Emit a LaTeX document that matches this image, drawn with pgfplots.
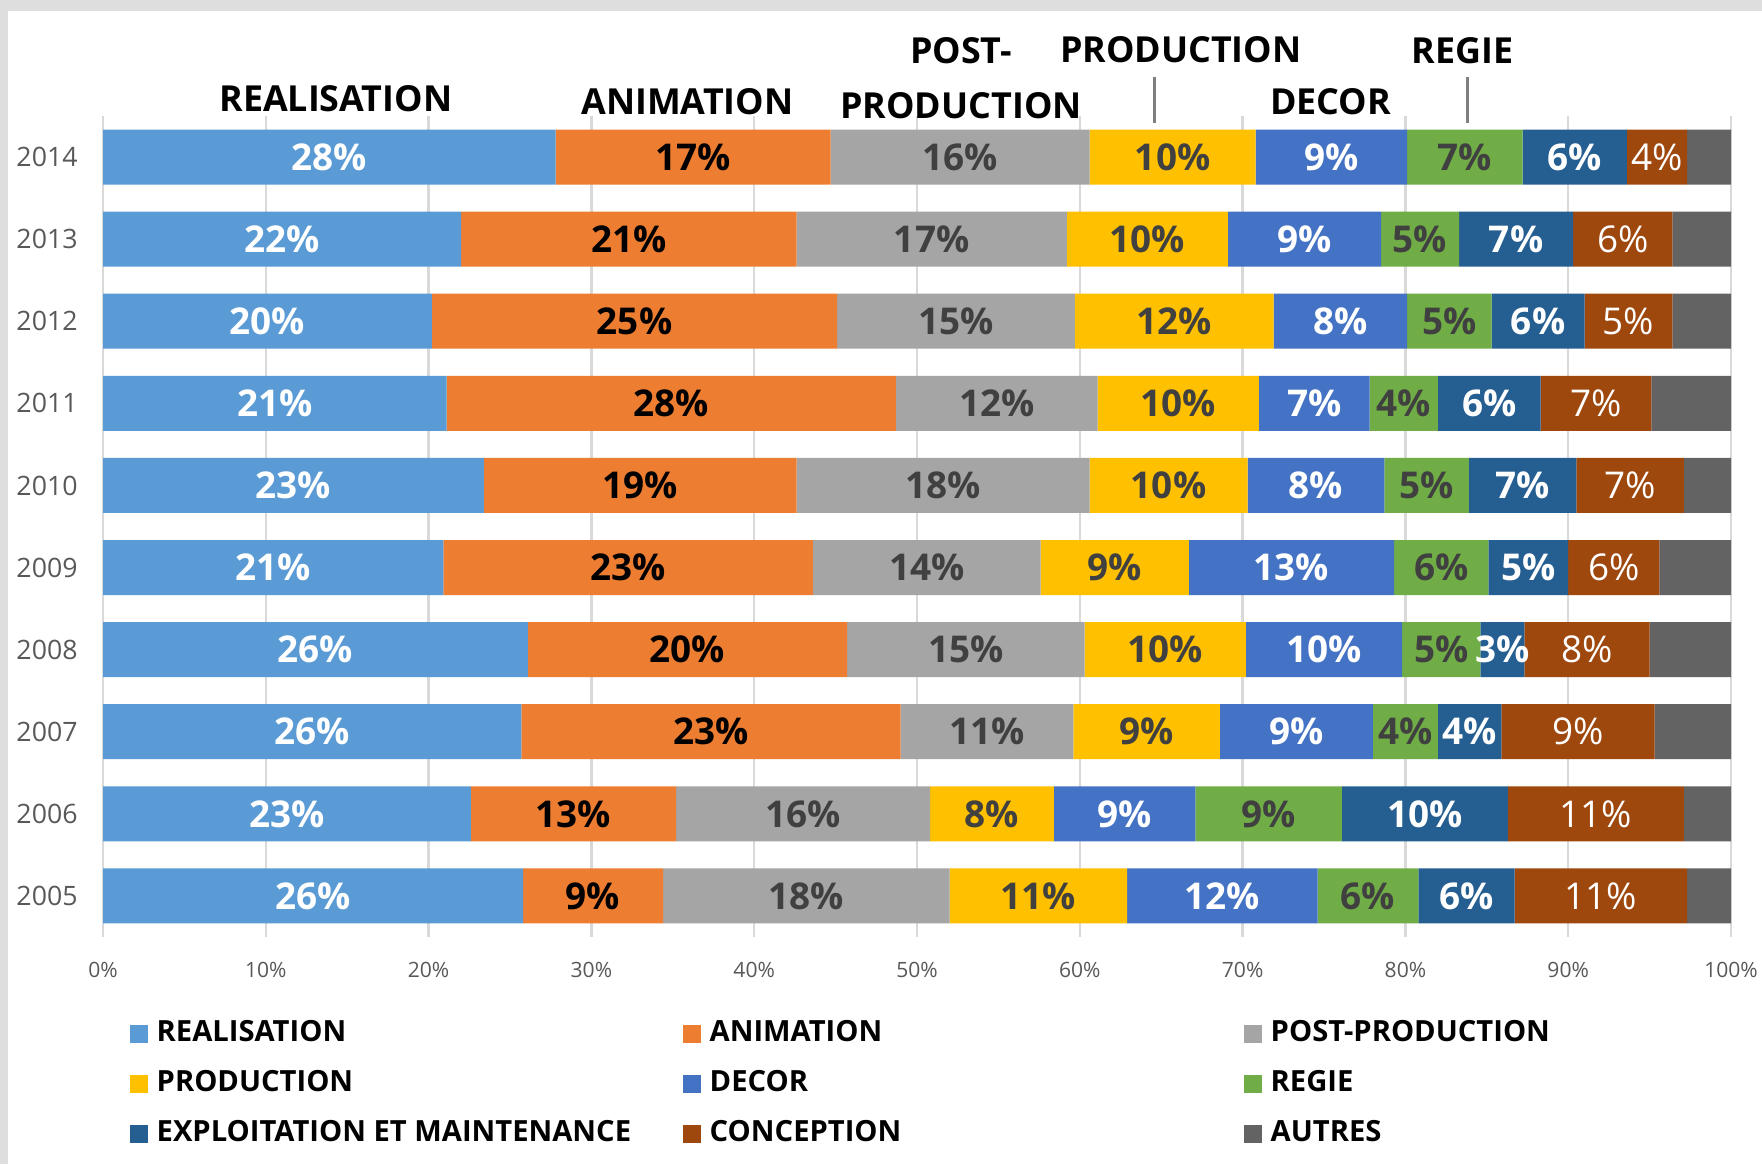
\documentclass[border=0pt]{standalone}
\usepackage{pgfplots}
\usepackage{pgfplotstable}
\pgfplotsset{compat=1.18}
\usepackage{fontspec}
\setmainfont{Open Sans}

\definecolor{cReal}{HTML}{5B9BD5}
\definecolor{cAnim}{HTML}{ED7D31}
\definecolor{cPost}{HTML}{A5A5A5}
\definecolor{cProd}{HTML}{FFC000}
\definecolor{cDecor}{HTML}{4472C4}
\definecolor{cRegie}{HTML}{70AD47}
\definecolor{cExpl}{HTML}{255E91}
\definecolor{cConc}{HTML}{9E480E}
\definecolor{cAutr}{HTML}{636363}
\definecolor{cDark}{HTML}{404040}
\definecolor{cTick}{HTML}{595959}
\definecolor{cGrid}{HTML}{D9D9D9}
\definecolor{cBorder}{HTML}{DEDEDE}
\definecolor{cLeader}{HTML}{7F7F7F}

% share of each trade per year (%)
\pgfplotstableread{
year REAL ANIM POST PROD DECOR REGIE EXPL CONC AUTR
2005 25.8  8.6 17.6 10.9 11.7  6.2  5.9 10.6 2.7
2006 22.6 12.6 15.6  7.6  8.7  9.0 10.2 10.8 2.9
2007 25.7 23.3 10.6  9.0  9.4  4.0  3.9  9.4 4.7
2008 26.1 19.6 14.6  9.9  9.6  4.8  2.7  7.7 5.0
2009 20.9 22.7 14.0  9.1 12.6  5.8  4.9  5.6 4.4
2010 23.4 19.2 18.0  9.7  8.4  5.2  6.6  6.6 2.9
2011 21.1 27.6 12.4  9.9  6.8  4.2  6.3  6.8 4.9
2012 20.2 24.9 14.6 12.2  8.2  5.2  5.7  5.4 3.6
2013 22.0 20.6 16.6  9.9  9.4  4.8  7.0  6.1 3.6
2014 27.8 16.9 15.9 10.2  9.3  7.1  6.4  3.7 2.7
}\shares

\newcommand{\lblbf}{\bfseries\fontsize{10.5}{12}\selectfont}
\newcommand{\lblrm}{\fontsize{10.5}{12}\selectfont}
\newcommand{\catfont}{\bfseries\fontsize{10.2}{11}\selectfont}
\newcommand{\legfont}{\bfseries\fontsize{8.3}{9}\selectfont}

\begin{document}
\begin{tikzpicture}
\path[use as bounding box] (0,0) rectangle (17.62,11.64);
\fill[cBorder] (0,0) rectangle (17.62,11.64);
\fill[white] (0.08,0) rectangle (17.62,11.53);
\begin{axis}[
  at={(1.03cm,2.27cm)}, anchor=south west,
  scale only axis, width=16.28cm, height=8.21cm,
  xbar stacked, bar width=0.55cm,
  xmin=0, xmax=100, ymin=2004.5, ymax=2014.5,
  xtick={0,10,...,100}, ytick={2005,...,2014},
  xticklabel={\pgfmathprintnumber{\tick}\%},
  /pgf/number format/assume math mode=true,
  xticklabel style={font=\fontsize{6}{7}\selectfont, text=cTick, yshift=-0.13cm},
  yticklabel style={font=\fontsize{7.6}{9}\selectfont, text=cTick, xshift=-0.13cm,
    /pgf/number format/1000 sep={}},
  xmajorgrids, grid style={cGrid, line width=0.7pt},
  axis line style={draw=none}, tick style={draw=none},
  clip=false,
  legend columns=3,
  legend style={draw=none, fill=none, inner sep=0pt, row sep=0.25cm, column sep=0pt,
    at={(0,0)}, anchor=north west, xshift=0.26cm, yshift=-0.84cm,
    nodes={inner sep=0pt, text height=0.2cm, text depth=0.05cm, font=\legfont}},
  legend cell align=left,
  seg/.style n args={4}{fill=#1, draw=none,
    legend image code/.code={\fill[#1] (0cm,-0.09cm) rectangle (0.18cm,0.09cm);},
    point meta=\thisrow{#2},
    nodes near coords={\pgfmathprintnumber[fixed,precision=0]{\pgfplotspointmeta}\%},
    every node near coord/.style={anchor=center, text=#3, font=#4}},
]
\addplot[seg={cReal}{REAL}{white}{\lblbf}] table[x=REAL, y=year] {\shares};
\addlegendentry{\makebox[5.35cm][l]{\hspace{0.09cm}REALISATION}}
\addplot[seg={cAnim}{ANIM}{black}{\lblbf}] table[x=ANIM, y=year] {\shares};
\addlegendentry{\makebox[5.43cm][l]{\hspace{0.09cm}ANIMATION}}
\addplot[seg={cPost}{POST}{cDark}{\lblbf}] table[x=POST, y=year] {\shares};
\addlegendentry{\hspace{0.09cm}POST-PRODUCTION}
\addplot[seg={cProd}{PROD}{cDark}{\lblbf}] table[x=PROD, y=year] {\shares};
\addlegendentry{\makebox[5.35cm][l]{\hspace{0.09cm}PRODUCTION}}
\addplot[seg={cDecor}{DECOR}{white}{\lblbf}] table[x=DECOR, y=year] {\shares};
\addlegendentry{\makebox[5.43cm][l]{\hspace{0.09cm}DECOR}}
\addplot[seg={cRegie}{REGIE}{cDark}{\lblbf}] table[x=REGIE, y=year] {\shares};
\addlegendentry{\hspace{0.09cm}REGIE}
\addplot[seg={cExpl}{EXPL}{white}{\lblbf}] table[x=EXPL, y=year] {\shares};
\addlegendentry{\makebox[5.35cm][l]{\hspace{0.09cm}EXPLOITATION ET MAINTENANCE}}
\addplot[seg={cConc}{CONC}{white}{\lblrm}] table[x=CONC, y=year] {\shares};
\addlegendentry{\makebox[5.43cm][l]{\hspace{0.09cm}CONCEPTION}}
\addplot[fill=cAutr, draw=none,
  legend image code/.code={\fill[cAutr] (0cm,-0.09cm) rectangle (0.18cm,0.09cm);}]
  table[x=AUTR, y=year] {\shares};
\addlegendentry{\hspace{0.09cm}AUTRES}

% series names above the 2014 bar
\node[font=\catfont] at (axis cs:14.3,2014.71) {REALISATION};
\node[font=\catfont] at (axis cs:35.9,2014.68) {ANIMATION};
\node[font=\catfont] at (axis cs:52.7,2015.29) {POST-};
\node[font=\catfont] at (axis cs:52.7,2014.63) {PRODUCTION};
\node[font=\catfont] at (axis cs:66.2,2015.31) {PRODUCTION};
\node[font=\catfont] at (axis cs:75.4,2014.68) {DECOR};
\node[font=\catfont] at (axis cs:83.5,2015.29) {REGIE};
\draw[cLeader, line width=0.8pt] (axis cs:64.6,2014.98) -- (axis cs:64.6,2014.41);
\draw[cLeader, line width=0.8pt] (axis cs:83.8,2014.98) -- (axis cs:83.8,2014.41);
\end{axis}
\end{tikzpicture}
\end{document}
